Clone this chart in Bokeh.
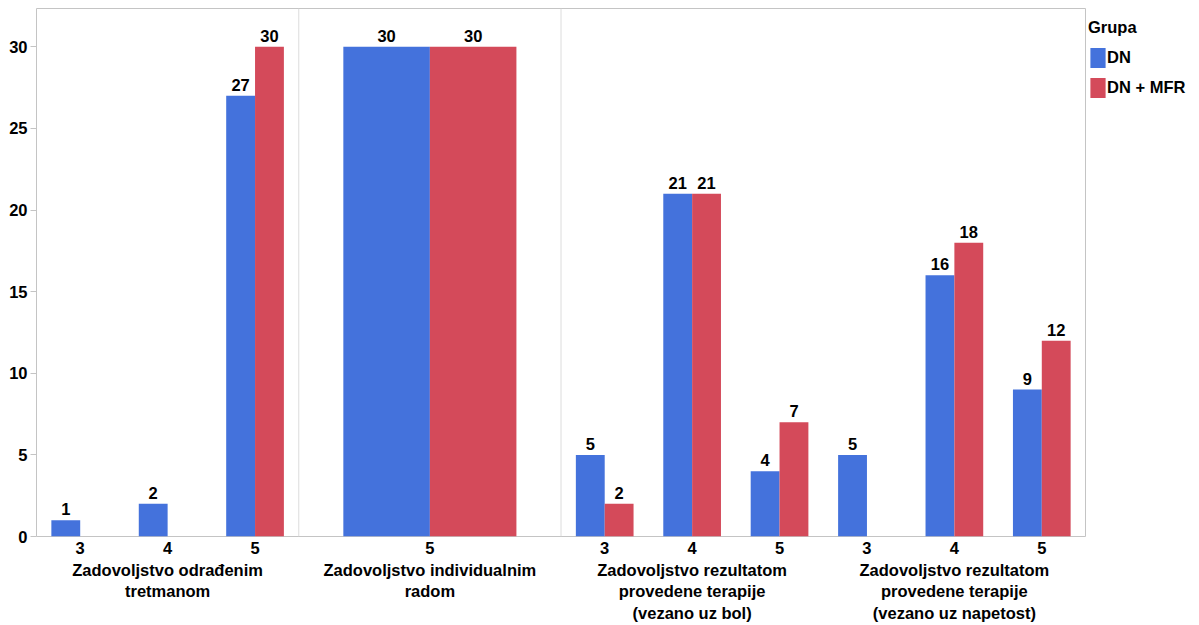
from bokeh.plotting import figure
from bokeh.models import (ColumnDataSource, Range1d, LinearAxis, FixedTicker, Span,
                          Legend, LegendItem)
from bokeh.core.properties import value
from bokeh.embed import file_html
from bokeh.resources import INLINE

# ---------------- data ----------------
facet_titles = [
    "Zadovoljstvo odrađenim\ntretmanom",
    "Zadovoljstvo individualnim\nradom",
    "Zadovoljstvo rezultatom\nprovedene terapije\n(vezano uz bol)",
    "Zadovoljstvo rezultatom\nprovedene terapije\n(vezano uz napetost)",
]
facet_categories = [["3", "4", "5"], ["5"], ["3", "4", "5"], ["3", "4", "5"]]
dn_values = [[1, 2, 27], [30], [5, 21, 4], [5, 16, 9]]
dn_mfr_values = [[0, 0, 30], [30], [2, 21, 7], [0, 18, 12]]
series_names = ["DN", "DN + MFR"]
series_colors = ["#4472DC", "#D44A5A"]
separators = [1, 2]
y_ticks = [0, 5, 10, 15, 20, 25, 30]

FONT = "Liberation Sans"
FS = "16.5px"
BAR_FRAC = 0.33
FRAME_W, FRAME_H = 1049, 528
LEG_H = 88

# ---------------- layout from data ----------------
cat_centers, cat_labels = [], []
series_data = [dict(x=[], top=[], width=[], label=[]) for _ in series_names]
for f, cats in enumerate(facet_categories):
    n = len(cats)
    w = BAR_FRAC / n
    for k, c in enumerate(cats):
        cx = f + (k + 0.5) / n
        cat_centers.append(cx)
        cat_labels.append(c)
        for s, vals in enumerate([dn_values, dn_mfr_values]):
            v = vals[f][k]
            if v > 0:
                d = series_data[s]
                d["x"].append(cx + (s - 0.5) * w)
                d["top"].append(v)
                d["width"].append(w)
                d["label"].append(str(v))

p = figure(frame_width=FRAME_W, frame_height=FRAME_H, output_backend="svg", toolbar_location=None,
           x_range=Range1d(0, len(facet_titles)), y_range=Range1d(0, 32.35),
           min_border_left=36, min_border_top=8, min_border_bottom=0, min_border_right=106,
           x_axis_location=None, y_axis_location="left")
p.outline_line_color = "#c4c4c4"
p.outline_line_width = 1
p.xgrid.visible = False
p.ygrid.visible = False
p.background_fill_color = "white"
p.border_fill_color = "white"

for xs in separators:
    p.add_layout(Span(location=xs, dimension="height", line_color="#dcdcdc", line_width=1))

renderers = []
for s, name in enumerate(series_names):
    src = ColumnDataSource(series_data[s])
    r = p.vbar(x="x", top="top", width="width", bottom=0, source=src,
               fill_color=series_colors[s], line_color=None)
    renderers.append(r)
    p.text(x="x", y="top", text="label", source=src, text_align="center",
           text_baseline="alphabetic", y_offset=-11, text_font=value(FONT),
           text_font_style="bold", text_font_size=value(FS), text_color="black")

# y axis
ya = p.yaxis[0]
ya.ticker = FixedTicker(ticks=y_ticks)
ya.minor_tick_line_color = None
ya.major_tick_in = 0
ya.major_tick_out = 6
ya.major_tick_line_color = "#c4c4c4"
ya.axis_line_color = None
ya.major_label_standoff = 3
ya.major_label_text_font = FONT
ya.major_label_text_font_style = "bold"
ya.major_label_text_font_size = FS
ya.major_label_text_color = "black"

# category axis
xa = LinearAxis(ticker=FixedTicker(ticks=cat_centers),
                major_label_overrides={cx: lab for cx, lab in zip(cat_centers, cat_labels)})
xa.axis_line_color = None
xa.major_tick_line_color = None
xa.minor_tick_line_color = None
xa.major_tick_out = 0
xa.major_tick_in = 0
xa.major_label_standoff = 5
xa.major_label_text_font = FONT
xa.major_label_text_font_style = "bold"
xa.major_label_text_font_size = FS
xa.major_label_text_color = "black"
p.add_layout(xa, "below")

# facet axis
facet_centers = [f + 0.5 for f in range(len(facet_titles))]
fa = LinearAxis(ticker=FixedTicker(ticks=facet_centers),
                major_label_overrides={c: t for c, t in zip(facet_centers, facet_titles)})
fa.axis_line_color = None
fa.major_tick_line_color = None
fa.minor_tick_line_color = None
fa.major_tick_out = 0
fa.major_tick_in = 0
fa.major_label_standoff = 4
fa.major_label_text_font = FONT
fa.major_label_text_font_style = "bold"
fa.major_label_text_font_size = FS
fa.major_label_text_color = "black"
fa.major_label_text_line_height = 1.22
p.add_layout(fa, "below")

legend = Legend(items=[LegendItem(label=n, renderers=[r]) for n, r in zip(series_names, renderers)],
                title="Grupa", location=(3, FRAME_H - 4 - LEG_H))
legend.margin = 0
legend.padding = 3
legend.spacing = 5
legend.glyph_width = 19
legend.glyph_height = 25
legend.label_height = 25
legend.label_standoff = 0
legend.title_standoff = 8
legend.border_line_color = None
legend.background_fill_alpha = 0
legend.title_text_font = FONT
legend.title_text_font_style = "bold"
legend.title_text_font_size = FS
legend.title_text_color = "black"
legend.label_text_font = FONT
legend.label_text_font_style = "bold"
legend.label_text_font_size = FS
legend.label_text_color = "black"
p.add_layout(legend, "right")

open("out.html", "w").write(file_html(p, INLINE))
